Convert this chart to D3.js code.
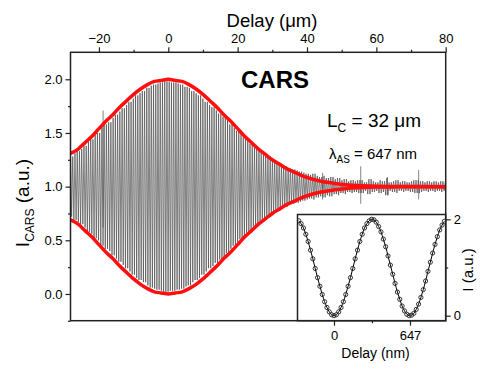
<!DOCTYPE html>
<html>
<head>
<meta charset="utf-8">
<script src="https://cdn.jsdelivr.net/npm/d3@7"></script>
<style>
  body { margin: 0; background: #fff; }
  svg text { font-family: "Liberation Sans", Arial, sans-serif; fill: #000; }
</style>
</head>
<body>
<div id="chart"></div>
<script>
// ---- data ----
var xTicks = [-20, 0, 20, 40, 60, 80]
var xMinorTicks = [-10, 10, 30, 50, 70]
var yTicks = [0.0, 0.5, 1.0, 1.5, 2.0]
var yMinorTicks = [-0.25, 0.25, 0.75, 1.25, 1.75]

// red envelope (delay in um)
var envDelay = [-28.2, -26, -24, -22, -20, -18, -16, -14, -12, -10, -8, -6, -4, -2, 0, 2, 4, 6, 8, 10, 12, 14, 16, 18, 20, 22, 24, 26, 28, 30, 32, 34, 36, 38, 40, 44, 48, 52, 56, 60, 66, 72, 80]
var envUpper = [1.31, 1.35, 1.41, 1.47, 1.54, 1.61, 1.67, 1.74, 1.80, 1.86, 1.91, 1.95, 1.98, 1.99, 2.00, 1.99, 1.98, 1.95, 1.91, 1.86, 1.80, 1.74, 1.67, 1.61, 1.54, 1.47, 1.41, 1.35, 1.30, 1.25, 1.21, 1.17, 1.14, 1.11, 1.085, 1.05, 1.03, 1.015, 1.008, 1.004, 1.002, 1.001, 1.0]
var envLower = [0.69, 0.65, 0.59, 0.53, 0.46, 0.39, 0.33, 0.26, 0.20, 0.14, 0.09, 0.05, 0.02, 0.01, 0.00, 0.01, 0.02, 0.05, 0.09, 0.14, 0.20, 0.26, 0.33, 0.39, 0.46, 0.53, 0.59, 0.65, 0.70, 0.75, 0.79, 0.83, 0.86, 0.89, 0.915, 0.95, 0.97, 0.985, 0.992, 0.996, 0.998, 0.999, 1.0]

// interferogram: fringe half-amplitude per 1 um bin, from -28 to 80 um
var traceStart = -28
var traceAmp = [
  0.28, 0.31, 0.33, 0.35, 0.38, 0.42, 0.44, 0.48, 0.50, 0.55,
  0.58, 0.60, 0.64, 0.67, 0.70, 0.73, 0.76, 0.79, 0.82, 0.85,
  0.87, 0.89, 0.92, 0.94, 0.95, 0.96, 0.97, 0.98, 0.98, 0.97,
  0.97, 0.96, 0.95, 0.93, 0.92, 0.89, 0.87, 0.85, 0.82, 0.79,
  0.76, 0.74, 0.71, 0.68, 0.65, 0.62, 0.58, 0.55, 0.52, 0.49,
  0.46, 0.43, 0.40, 0.37, 0.35, 0.32, 0.30, 0.28, 0.26, 0.24,
  0.22, 0.20, 0.19, 0.17, 0.16, 0.15, 0.14, 0.13, 0.12, 0.11,
  0.12, 0.10, 0.09, 0.10, 0.08, 0.09, 0.07, 0.08, 0.06, 0.07,
  0.05, 0.06, 0.05, 0.06, 0.06, 0.04, 0.07, 0.05, 0.04, 0.06,
  0.05, 0.08, 0.04, 0.05, 0.06, 0.04, 0.05, 0.04, 0.05, 0.06,
  0.06, 0.05, 0.04, 0.05, 0.04, 0.05, 0.04, 0.05, 0.04
]
var fringeHalfPeriod = 0.3235  // um, lambda_AS / 2
// isolated spikes
var spikeDelay = [-18.8, 44.5, 55.5, 63.2, 72.2]
var spikeTop = [1.71, 1.13, 1.19, 1.09, 1.155]
var spikeBottom = [0.62, 0.88, 0.84, 0.92, 0.88]

// inset: delay in nm and intensity
var insetDelay = [-300, -280, -260, -240, -220, -200, -180, -160, -140, -120, -100, -80, -60, -40, -20, 0, 20, 40, 60, 80, 100, 120, 140, 160, 180, 200, 220, 240, 260, 280, 300, 320, 340, 360, 380, 400, 420, 440, 460, 480, 500, 520, 540, 560, 580, 600, 620, 640, 660, 680, 700, 720, 740, 760, 780, 800, 820, 840, 860, 880, 900, 920, 940]
var insetValue = [1.97, 1.91, 1.82, 1.69, 1.54, 1.36, 1.18, 0.98, 0.79, 0.61, 0.44, 0.29, 0.17, 0.08, 0.02, 0.00, 0.02, 0.08, 0.17, 0.29, 0.44, 0.61, 0.79, 0.98, 1.18, 1.36, 1.54, 1.69, 1.82, 1.91, 1.97, 2.00, 1.99, 1.94, 1.85, 1.74, 1.59, 1.43, 1.24, 1.05, 0.86, 0.67, 0.49, 0.34, 0.20, 0.10, 0.03, 0.00, 0.01, 0.05, 0.13, 0.24, 0.38, 0.54, 0.72, 0.92, 1.11, 1.30, 1.48, 1.64, 1.78, 1.88, 1.96]
var insetXTicks = [0, 647]
var insetXMinor = [323.5]
var insetYTicks = [0, 2]
var insetYMinor = [1]

// ---- layout ----
var W = 491, H = 379
var plot = {left: 70.5, right: 445.7, top: 52.3, bottom: 320.7}
var inset = {left: 297.5, right: 445.7, top: 214.5, bottom: 320.7}

var svg = d3.select("#chart").append("svg")
    .attr("width", W)
    .attr("height", H)

var x = d3.scaleLinear().domain([-28.2, 80]).range([plot.left, plot.right])
var y = d3.scaleLinear().domain([-0.249, 2.2515]).range([plot.bottom, plot.top])

// build trace vertices (alternating fringe extremes)
var trace = []
var k = 0
for (var d = -28.2; d <= 80; d += fringeHalfPeriod) {
    var bin = Math.min(traceAmp.length - 1, Math.max(0, Math.round(d) - traceStart))
    var a = traceAmp[bin]
    trace.push([d, k % 2 === 0 ? 1 + a : 1 - a])
    k++
}

svg.append("clipPath").attr("id", "clip")
    .append("rect")
    .attr("x", plot.left).attr("y", plot.top)
    .attr("width", plot.right - plot.left).attr("height", plot.bottom - plot.top)

var g = svg.append("g").attr("clip-path", "url(#clip)")

var line = d3.line().x(function(p){ return x(p[0]) }).y(function(p){ return y(p[1]) })

g.append("path")
    .datum(trace)
    .attr("d", line)
    .attr("fill", "none")
    .attr("stroke", "#4d4d4d")
    .attr("stroke-width", 0.7)

g.selectAll(".spike")
    .data(spikeDelay)
    .enter().append("line")
    .attr("class", "spike")
    .attr("x1", function(d){ return x(d) })
    .attr("x2", function(d){ return x(d) })
    .attr("y1", function(d, i){ return y(spikeTop[i]) })
    .attr("y2", function(d, i){ return y(spikeBottom[i]) })
    .attr("stroke", "#4d4d4d")
    .attr("stroke-width", 0.7)

var envLine = d3.line()
    .x(function(d, i){ return x(envDelay[i]) })
    .y(function(d){ return y(d) })
    .curve(d3.curveMonotoneX)

g.append("path").datum(envUpper).attr("d", envLine)
    .attr("fill", "none").attr("stroke", "#ff1010").attr("stroke-width", 3.5)
g.append("path").datum(envLower).attr("d", envLine)
    .attr("fill", "none").attr("stroke", "#ff1010").attr("stroke-width", 3.5)

// ---- main axes ----
svg.append("g")
    .attr("class", "axis")
    .attr("transform", "translate(0," + plot.top + ")")
    .call(d3.axisTop(x).tickValues(xTicks).tickSize(5).tickPadding(4).tickFormat(d3.format("d")))
svg.append("g")
    .attr("transform", "translate(0," + plot.top + ")")
    .call(d3.axisTop(x).tickValues(xMinorTicks).tickSize(2.5).tickFormat(""))

svg.append("g")
    .attr("class", "axis")
    .attr("transform", "translate(" + plot.left + ",0)")
    .call(d3.axisLeft(y).tickValues(yTicks).tickSize(5).tickPadding(3).tickFormat(d3.format(".1f")))
svg.append("g")
    .attr("transform", "translate(" + plot.left + ",0)")
    .call(d3.axisLeft(y).tickValues(yMinorTicks).tickSize(2.5).tickFormat(""))

// ---- inset ----
var xi = d3.scaleLinear().domain([-310.7, 951]).range([inset.left, inset.right])
var yi = d3.scaleLinear().domain([-0.104, 2.10]).range([inset.bottom, inset.top])

svg.append("rect")
    .attr("x", inset.left).attr("y", inset.top)
    .attr("width", inset.right - inset.left).attr("height", inset.bottom - inset.top)
    .attr("fill", "#fff")

svg.append("clipPath").attr("id", "clipi").append("rect")
    .attr("x", inset.left).attr("y", inset.top)
    .attr("width", inset.right - inset.left).attr("height", inset.bottom - inset.top)
var gi = svg.append("g").attr("clip-path", "url(#clipi)")

var insetLine = d3.line()
    .x(function(d, i){ return xi(insetDelay[i]) })
    .y(function(d){ return yi(d) })
    .curve(d3.curveCatmullRom)
gi.append("path").datum(insetValue).attr("d", insetLine)
    .attr("fill", "none").attr("stroke", "#000").attr("stroke-width", 1)
gi.selectAll("circle")
    .data(insetValue)
    .enter().append("circle")
    .attr("cx", function(d, i){ return xi(insetDelay[i]) })
    .attr("cy", function(d){ return yi(d) })
    .attr("r", 2.1)
    .attr("fill", "none")
    .attr("stroke", "#222")
    .attr("stroke-width", 0.9)

svg.append("g")
    .attr("class", "axis")
    .attr("transform", "translate(0," + inset.bottom + ")")
    .call(d3.axisBottom(xi).tickValues(insetXTicks).tickSize(5).tickPadding(5).tickFormat(d3.format("d")))
svg.append("g")
    .attr("transform", "translate(0," + inset.bottom + ")")
    .call(d3.axisBottom(xi).tickValues(insetXMinor).tickSize(2.5).tickFormat(""))
svg.append("g")
    .attr("class", "axis")
    .attr("transform", "translate(" + inset.right + ",0)")
    .call(d3.axisRight(yi).tickValues(insetYTicks).tickSize(5).tickPadding(3).tickFormat(d3.format("d")))
svg.append("g")
    .attr("transform", "translate(" + inset.right + ",0)")
    .call(d3.axisRight(yi).tickValues(insetYMinor).tickSize(2.5).tickFormat(""))

svg.selectAll(".domain").remove()
svg.selectAll(".tick line").attr("stroke", "#222").attr("stroke-width", 1.2)
svg.selectAll(".axis .tick text").style("font-size", "13px").attr("fill", "#000")

// ---- frames ----
svg.append("rect")
    .attr("x", plot.left).attr("y", plot.top)
    .attr("width", plot.right - plot.left).attr("height", plot.bottom - plot.top)
    .attr("fill", "none").attr("stroke", "#222").attr("stroke-width", 1.5)
svg.append("rect")
    .attr("x", inset.left).attr("y", inset.top)
    .attr("width", inset.right - inset.left).attr("height", inset.bottom - inset.top)
    .attr("fill", "none").attr("stroke", "#222").attr("stroke-width", 1.5)

// ---- labels ----
svg.append("text")
    .attr("x", 272).attr("y", 27)
    .attr("text-anchor", "middle")
    .style("font-size", "18.5px")
    .text("Delay (\u03bcm)")

var yl = svg.append("text")
    .attr("transform", "translate(29,203) rotate(-90)")
    .attr("text-anchor", "middle")
    .style("font-size", "19px")
yl.append("tspan").text("I")
yl.append("tspan").attr("dy", 5).style("font-size", "12px").text("CARS")
yl.append("tspan").attr("dy", -5).text(" (a.u.)")

svg.append("text")
    .attr("x", 275).attr("y", 88)
    .attr("text-anchor", "middle")
    .style("font-size", "24px")
    .style("font-weight", "bold")
    .text("CARS")

var lc = svg.append("text")
    .attr("x", 327).attr("y", 127)
    .style("font-size", "19px")
lc.append("tspan").text("L")
lc.append("tspan").attr("dy", 5).style("font-size", "12px").text("C")
lc.append("tspan").attr("dy", -5).text(" = 32 \u03bcm")

var la = svg.append("text")
    .attr("x", 329).attr("y", 159)
    .style("font-size", "15px")
la.append("tspan").text("\u03bb")
la.append("tspan").attr("dy", 4).style("font-size", "10px").text("AS")
la.append("tspan").attr("dy", -4).text(" = 647 nm")

svg.append("text")
    .attr("x", 375.5).attr("y", 358)
    .attr("text-anchor", "middle")
    .style("font-size", "14px")
    .text("Delay (nm)")

svg.append("text")
    .attr("transform", "translate(473,270) rotate(-90)")
    .attr("text-anchor", "middle")
    .style("font-size", "15px")
    .text("I (a.u.)")
</script>
</body>
</html>
